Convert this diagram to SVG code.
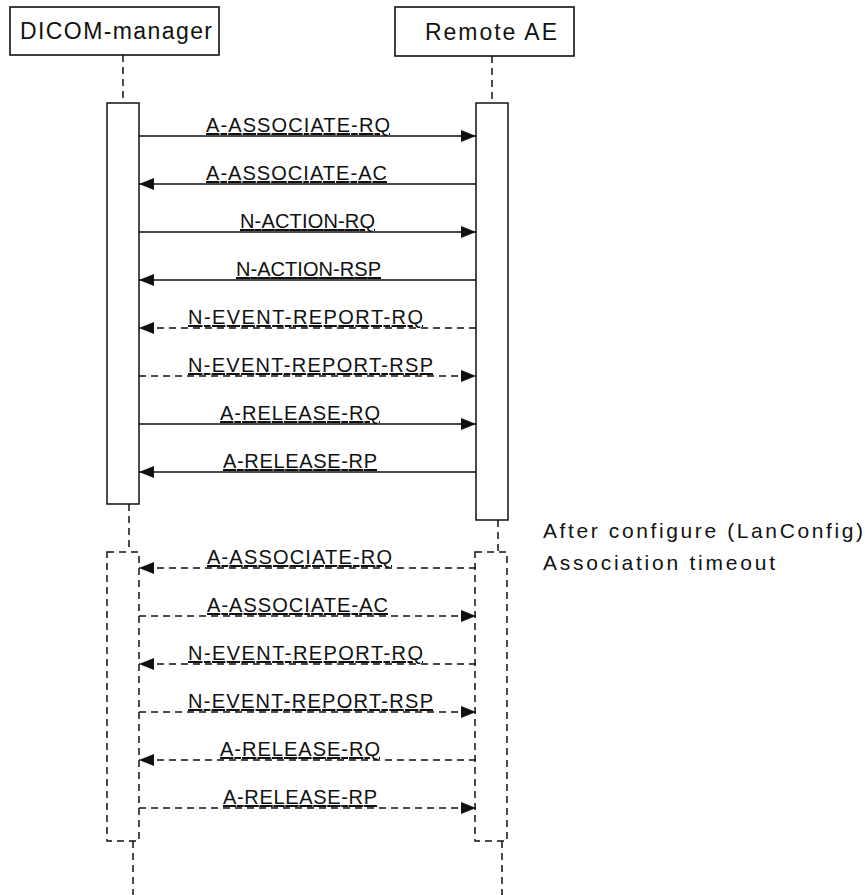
<svg xmlns="http://www.w3.org/2000/svg" width="865" height="895" viewBox="0 0 865 895">
<defs>
<style>
.box{fill:#fff;stroke:#111;stroke-width:1.6}
.act{fill:#fff;stroke:#111;stroke-width:1.5}
.dbox{fill:none;stroke:#111;stroke-width:1.5;stroke-dasharray:7 5}
.life{fill:none;stroke:#111;stroke-width:1.5;stroke-dasharray:7 5}
.msg{fill:none;stroke:#111;stroke-width:1.5;marker-end:url(#ah)}
.dash{stroke-dasharray:7 5}
.hdr{font-family:"Liberation Sans",Arial,sans-serif;font-size:23px;fill:#111}
.lbl{font-family:"Liberation Sans",Arial,sans-serif;font-size:20px;fill:#111;text-decoration:underline}
.note{font-family:"Liberation Sans",Arial,sans-serif;font-size:21px;fill:#111}
</style>
<marker id="ah" viewBox="0 0 15 12" refX="15" refY="6" markerWidth="15" markerHeight="12" markerUnits="userSpaceOnUse" orient="auto">
<path d="M0,0 L15,6 L0,12 z" fill="#111"/>
</marker>
</defs>
<rect width="865" height="895" fill="#fff"/>

<g id="dicom-manager">
<rect class="box" x="10" y="7" width="209" height="48"/>
<text class="hdr" x="20" y="39" textLength="192" lengthAdjust="spacing">DICOM-manager</text>
<path class="life" d="M123,55 V103"/>
<rect class="act" x="107" y="103" width="32" height="401"/>
<path class="life" d="M129,504 V552"/>
<rect class="dbox" x="107" y="552" width="32" height="289"/>
<path class="life" d="M133,841 V895"/>
</g>

<g id="remote-ae">
<rect class="box" x="395" y="7" width="179" height="49"/>
<text class="hdr" x="425" y="40" textLength="132" lengthAdjust="spacing">Remote AE</text>
<path class="life" d="M492,56 V103"/>
<rect class="act" x="476" y="103" width="32" height="417"/>
<path class="life" d="M498,520 V552"/>
<rect class="dbox" x="475" y="552" width="32" height="289"/>
<path class="life" d="M502,841 V895"/>
</g>

<g id="note">
<text class="note" x="543" y="538" textLength="320" lengthAdjust="spacing">After configure (LanConfig)</text>
<text class="note" x="543" y="570" textLength="232" lengthAdjust="spacing">Association timeout</text>
</g>

<g id="connectors">
<path class="msg" d="M139,136 H476"/>
<path class="msg" d="M476,184 H139"/>
<path class="msg" d="M139,232 H476"/>
<path class="msg" d="M476,280 H139"/>
<path class="msg dash" d="M476,328 H139"/>
<path class="msg dash" d="M139,376 H476"/>
<path class="msg" d="M139,424 H476"/>
<path class="msg" d="M476,472 H139"/>
<path class="msg dash" d="M476,568 H139"/>
<path class="msg dash" d="M139,616 H476"/>
<path class="msg dash" d="M476,664 H139"/>
<path class="msg dash" d="M139,712 H476"/>
<path class="msg dash" d="M476,760 H139"/>
<path class="msg dash" d="M139,808 H476"/>
</g>

<g id="labels">
<text class="lbl" x="206" y="132" textLength="184" lengthAdjust="spacing">A-ASSOCIATE-RQ</text>
<text class="lbl" x="206" y="180" textLength="181" lengthAdjust="spacing">A-ASSOCIATE-AC</text>
<text class="lbl" x="240" y="228" textLength="135" lengthAdjust="spacing">N-ACTION-RQ</text>
<text class="lbl" x="236" y="276" textLength="145" lengthAdjust="spacing">N-ACTION-RSP</text>
<text class="lbl" x="188" y="324" textLength="235" lengthAdjust="spacing">N-EVENT-REPORT-RQ</text>
<text class="lbl" x="188" y="372" textLength="245" lengthAdjust="spacing">N-EVENT-REPORT-RSP</text>
<text class="lbl" x="220" y="420" textLength="160" lengthAdjust="spacing">A-RELEASE-RQ</text>
<text class="lbl" x="223" y="468" textLength="154" lengthAdjust="spacing">A-RELEASE-RP</text>
<text class="lbl" x="207" y="564" textLength="185" lengthAdjust="spacing">A-ASSOCIATE-RQ</text>
<text class="lbl" x="207" y="612" textLength="181" lengthAdjust="spacing">A-ASSOCIATE-AC</text>
<text class="lbl" x="188" y="660" textLength="235" lengthAdjust="spacing">N-EVENT-REPORT-RQ</text>
<text class="lbl" x="188" y="708" textLength="245" lengthAdjust="spacing">N-EVENT-REPORT-RSP</text>
<text class="lbl" x="220" y="756" textLength="160" lengthAdjust="spacing">A-RELEASE-RQ</text>
<text class="lbl" x="223" y="804" textLength="154" lengthAdjust="spacing">A-RELEASE-RP</text>
</g>
</svg>
